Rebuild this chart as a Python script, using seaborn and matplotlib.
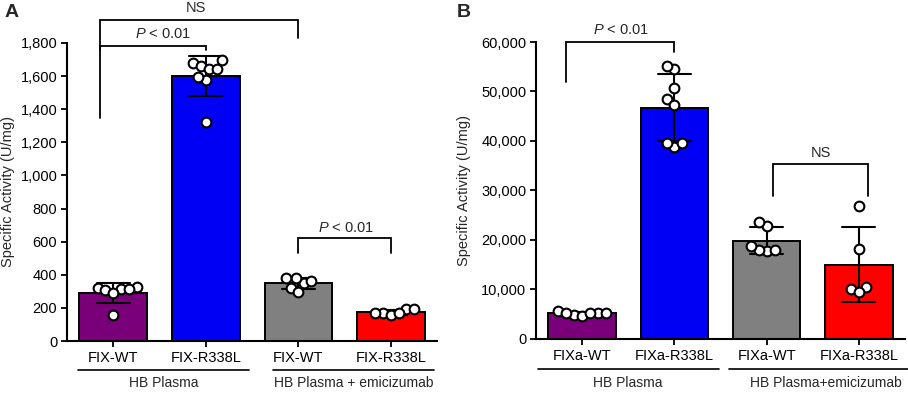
import numpy as np
import pandas as pd
import matplotlib
matplotlib.use("Agg")
import matplotlib.pyplot as plt
import matplotlib.transforms as mtransforms
from matplotlib.ticker import StrMethodFormatter
import seaborn as sns

# Panel A: FIX specific activity (U/mg)
a_keys = ["FIX-WT HB", "FIX-R338L HB", "FIX-WT emi", "FIX-R338L emi"]
a_ticklabels = ["FIX-WT", "FIX-R338L", "FIX-WT", "FIX-R338L"]
a_wt = [312, 324, 312, 322, 308, 292, 157]
a_r338 = [1681, 1661, 1643, 1697, 1643, 1576, 1593, 1321]
a_wt_emi = [350, 362, 378, 320, 380, 296]
a_r338_emi = [167, 191, 157, 167, 171, 191]

# Panel B: FIXa specific activity (U/mg)
b_keys = ["FIXa-WT HB", "FIXa-R338L HB", "FIXa-WT emi", "FIXa-R338L emi"]
b_ticklabels = ["FIXa-WT", "FIXa-R338L", "FIXa-WT", "FIXa-R338L"]
b_wt = [5700, 4900, 5250, 5350, 5300, 4600, 5200]
b_r338 = [54540, 55210, 50640, 48420, 47270, 38720, 39530, 39530]
b_wt_emi = [17840, 17980, 18790, 17980, 22830, 23700]
b_r338_emi = [10030, 10440, 9560, 18180, 26870]

colors = ["#7a007a", "#0000f5", "#808080", "#ff0000"]

sns.set_theme(style="ticks")
plt.rcParams["font.family"] = ["Liberation Sans", "DejaVu Sans"]
plt.rcParams["mathtext.fontset"] = "custom"
plt.rcParams["mathtext.it"] = "Liberation Sans:italic"
plt.rcParams["mathtext.rm"] = "Liberation Sans"

swarms = []


def long_df(keys, groups):
    rows = []
    for k, vals in zip(keys, groups):
        for v in vals:
            rows.append({"cond": k, "value": v})
    return pd.DataFrame(rows)


def draw_panel(ax, df, keys, ticklabels):
    pal = dict(zip(keys, colors))
    sns.barplot(data=df, x="cond", y="value", hue="cond", order=keys,
                palette=pal, saturation=1, errorbar="sd", capsize=0.36,
                width=0.73, edgecolor="black", linewidth=1.4, legend=False,
                err_kws={"color": "black", "linewidth": 1.5}, ax=ax)
    n_before = len(ax.collections)
    sns.swarmplot(data=df, x="cond", y="value", order=keys, color="white",
                  edgecolor="black", linewidth=1.5, size=7, ax=ax, zorder=5)
    swarms.extend(ax.collections[n_before:])
    ax.set_xlim(-0.5, 3.5)
    ax.set_xticks(range(4))
    ax.set_xticklabels(ticklabels, fontsize=10.5)
    ax.set_xlabel("")
    ax.set_ylabel("Specific Activity (U/mg)", fontsize=10.5)
    ax.yaxis.set_major_formatter(StrMethodFormatter("{x:,.0f}"))
    ax.tick_params(axis="both", direction="out", length=4, width=1.3,
                   labelsize=10.5, colors="black", pad=3)
    for s in ["left", "bottom"]:
        ax.spines[s].set_linewidth(1.5)
        ax.spines[s].set_color("black")
    sns.despine(ax=ax)


def bracket(ax, x1, x2, y, y1, y2, label, ty, tx=None):
    ax.plot([x1, x1, x2, x2], [y1, y, y, y2], color="black", lw=1.3,
            clip_on=False, solid_joinstyle="miter")
    if tx is None:
        tx = (x1 + x2) / 2
    ax.text(tx, ty, label, ha="center", va="center", fontsize=10.5,
            clip_on=False)


def groups(ax, spans, labels, ly, ty):
    trans = mtransforms.blended_transform_factory(ax.transData, ax.transAxes)
    for (x1, x2), lab in zip(spans, labels):
        ax.plot([x1, x2], [ly, ly], color="black", lw=1.2,
                transform=trans, clip_on=False)
        ax.text((x1 + x2) / 2, ty, lab, ha="center", va="center",
                fontsize=10, transform=trans, clip_on=False)


fig = plt.figure(figsize=(9.08, 3.94), dpi=100)
axA = fig.add_axes([0.0738, 0.1345, 0.4075, 0.7564])
axB = fig.add_axes([0.5903, 0.1396, 0.4064, 0.7538])

pval = r"$\it{P}$ < 0.01"

# Panel A
dfA = long_df(a_keys, [a_wt, a_r338, a_wt_emi, a_r338_emi])
draw_panel(axA, dfA, a_keys, a_ticklabels)
axA.set_ylim(0, 1800)
axA.set_yticks(np.arange(0, 1801, 200))
axA.yaxis.set_label_coords(-0.14, 0.5)
bracket(axA, -0.14, 2.0, 1939, 1347, 1830, "NS", 2011, tx=0.89)
bracket(axA, -0.14, 1.0, 1784, 1758, 1758, pval, 1854, tx=0.54)
bracket(axA, 2.0, 3.0, 620, 530, 530, pval, 682, tx=2.52)
groups(axA, [(-0.38, 1.47), (1.73, 3.47)],
       ["HB Plasma", "HB Plasma + emicizumab"], -0.097, -0.14)

# Panel B
dfB = long_df(b_keys, [b_wt, b_r338, b_wt_emi, b_r338_emi])
draw_panel(axB, dfB, b_keys, b_ticklabels)
axB.set_ylim(0, 60000)
axB.set_yticks(np.arange(0, 60001, 10000))
axB.yaxis.set_label_coords(-0.175, 0.5)
bracket(axB, -0.18, 1.0, 59930, 51850, 58040, pval, 62520, tx=0.42)
bracket(axB, 2.065, 3.1, 35350, 28800, 28800, "NS", 37670, tx=2.59)
groups(axB, [(-0.48, 1.48), (1.59, 3.7)],
       ["HB Plasma", "HB Plasma+emicizumab"], -0.101, -0.148)

fig.text(0.005, 0.968, "A", fontsize=14, fontweight="bold", ha="left", va="center")
fig.text(0.503, 0.968, "B", fontsize=14, fontweight="bold", ha="left", va="center")

# seaborn lays the swarm out at draw time; draw once, then squeeze it a bit
# so the dots overlap like in the original figure
fig.canvas.draw()
for coll in swarms:
    off = np.array(coll.get_offsets())
    if len(off):
        c = np.round(np.mean(off[:, 0]))
        off[:, 0] = c + (off[:, 0] - c) * 0.65
        if "draw" in coll.__dict__:
            del coll.draw
        coll.set_offsets(off)

fig.savefig("out.png", dpi=100)
